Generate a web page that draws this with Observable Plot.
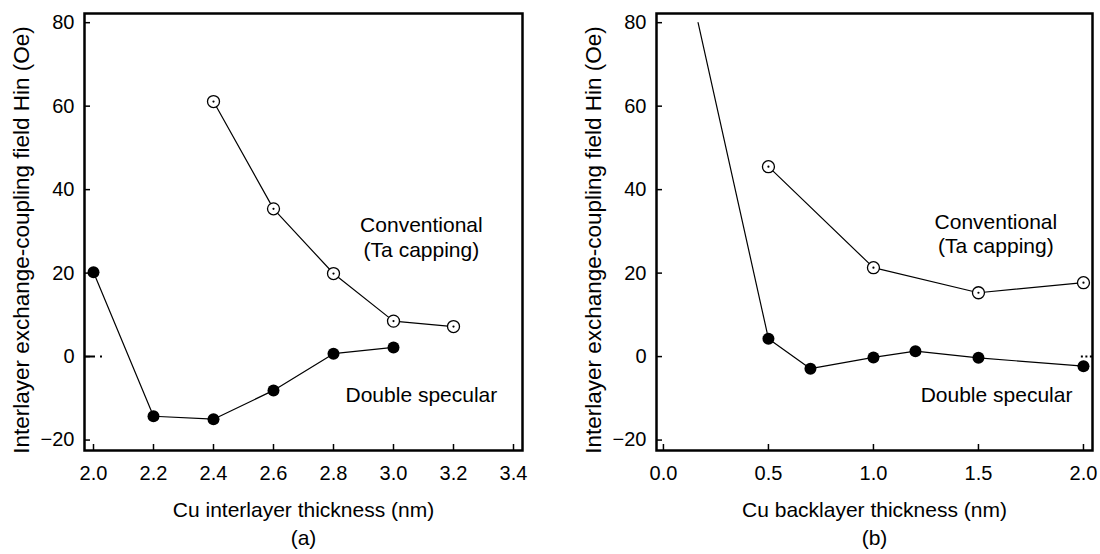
<!DOCTYPE html>
<html><head><meta charset="utf-8">
<script src="https://cdn.jsdelivr.net/npm/d3@7"></script>
<script src="https://cdn.jsdelivr.net/npm/@observablehq/plot@0.6"></script>
<style>
body{margin:0;background:#fff;}
#wrap{display:flex;width:1100px;height:554px;overflow:hidden;}
#wrap svg{flex:none;}
#wrap g[aria-label$="tick label"] text{font-size:20px;}
</style></head><body><div id="wrap"></div>
<script>
// ---- data ----
const yTicks = [-20, 0, 20, 40, 60, 80];
const yLabel = "Interlayer exchange-coupling field Hin (Oe)";

// panel (a)
const xTicksA = [2.0, 2.2, 2.4, 2.6, 2.8, 3.0, 3.2, 3.4];
const convAx = [2.4, 2.6, 2.8, 3.0, 3.2];
const convAy = [61.1, 35.4, 19.9, 8.5, 7.2];
const dsAx = [2.0, 2.2, 2.4, 2.6, 2.8, 3.0];
const dsAy = [20.2, -14.3, -15.0, -8.1, 0.7, 2.2];

// panel (b)
const xTicksB = [0.0, 0.5, 1.0, 1.5, 2.0];
const convBx = [0.5, 1.0, 1.5, 2.0];
const convBy = [45.5, 21.3, 15.3, 17.7];
const dsBx = [0.5, 0.7, 1.0, 1.2, 1.5, 2.0];
const dsBy = [4.3, -2.9, -0.2, 1.3, -0.3, -2.3];
const dsBLeadX = [0.165]; // line continues off the dots up to the top
const dsBLeadY = [80];

// annotation anchors (data space)
const annA = {conv: [3.093, 28.7], ds: [3.093, -9.3]};
const annB = {conv: [1.583, 29.5], ds: [1.586, -9.3]};

const zip = (xs, ys) => xs.map((x, i) => ({x, y: ys[i]}));

function panel(o) {
  const conv = zip(o.convX, o.convY);
  const ds = zip(o.dsX, o.dsY);
  const dsLine = zip(o.leadX.concat(o.dsX), o.leadY.concat(o.dsY));
  return Plot.plot({
    width: 550, height: 554,
    marginLeft: o.marginLeft, marginRight: o.marginRight, marginTop: 13, marginBottom: 104,
    style: {fontFamily: "'Liberation Sans', Arial, Helvetica, sans-serif", fontSize: "20px", color: "black", background: "white", overflow: "visible"},
    x: {domain: o.xDomain},
    y: {domain: [-22.5, 82.2]},
    marks: [
      Plot.line(dsLine, {x: "x", y: "y", stroke: "black", strokeWidth: 1.2}),
      Plot.line(conv, {x: "x", y: "y", stroke: "black", strokeWidth: 1.2}),
      Plot.dot(ds, {x: "x", y: "y", r: 6, fill: "black", stroke: "none"}),
      Plot.dot(conv, {x: "x", y: "y", r: 6, fill: "white", stroke: "black", strokeWidth: 1.3}),
      Plot.dot(conv, {x: "x", y: "y", r: 1.1, fill: "black", stroke: "none"}),
      Plot.ruleY([0], {x1: o.zero[0], x2: o.zero[1], strokeDasharray: o.zero[2], strokeWidth: 2}),
      Plot.axisX({ticks: o.xTicks, tickFormat: d3.format(".1f"), tickSize: -6, tickPadding: 21, strokeWidth: 1.5, label: null, fontSize: 20}),
      Plot.axisY({ticks: yTicks, tickFormat: d3.format("d"), tickSize: -6, tickPadding: 16, strokeWidth: 1.5, label: null, fontSize: 20}),
      Plot.frame({stroke: "black", strokeWidth: 2.5}),
      Plot.text([o.xLabel], {frameAnchor: "bottom", dy: 66, fontSize: 21}),
      Plot.text([o.caption], {frameAnchor: "bottom", dy: 94, fontSize: 21}),
      Plot.text([yLabel], {frameAnchor: "left", textAnchor: "middle", dx: -63, dy: 8, rotate: -90, fontSize: 22.5}),
      Plot.text(["Conventional\n(Ta capping)"], {x: [o.ann.conv[0]], y: [o.ann.conv[1]], fontSize: 21, lineHeight: 1.15}),
      Plot.text(["Double specular"], {x: [o.ann.ds[0]], y: [o.ann.ds[1]], fontSize: 21})
    ]
  });
}

const wrap = document.getElementById("wrap");
wrap.append(panel({
  xDomain: [1.97, 3.43], xTicks: xTicksA,
  convX: convAx, convY: convAy, dsX: dsAx, dsY: dsAy, leadX: [], leadY: [],
  xLabel: "Cu interlayer thickness (nm)", caption: "(a)",
  marginLeft: 84, marginRight: 28, ann: annA,
  zero: [1.97, 2.03, "11,5,2,300"]
}));
wrap.append(panel({
  xDomain: [-0.033, 2.043], xTicks: xTicksB,
  convX: convBx, convY: convBy, dsX: dsBx, dsY: dsBy, leadX: dsBLeadX, leadY: dsBLeadY,
  xLabel: "Cu backlayer thickness (nm)", caption: "(b)",
  marginLeft: 106, marginRight: 8, ann: annB,
  zero: [1.99, 2.043, "2,2.5,2,2.5,20"]
}));
</script></body></html>
